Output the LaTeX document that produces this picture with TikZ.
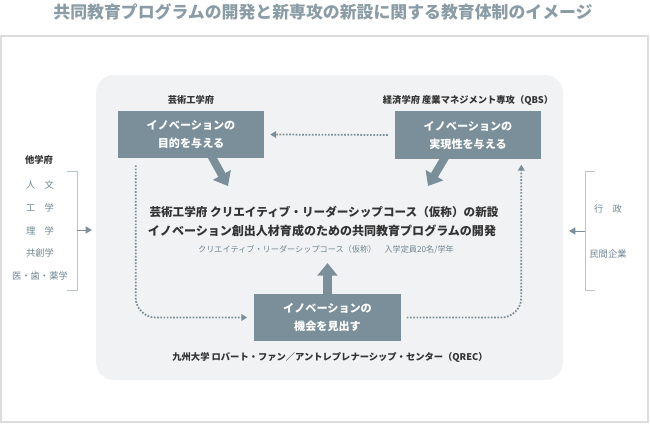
\documentclass[tikz,border=0pt]{standalone}
\usepackage{fontspec}
\setmainfont{Noto Sans CJK JP}
\usepackage{xcolor}
\usepackage{tikz}
\usetikzlibrary{arrows.meta,positioning,calc}
\definecolor{qrecGray}{HTML}{7A8F99}
\definecolor{qrecTitle}{HTML}{8A9CA5}
\definecolor{qrecPanel}{HTML}{F1F2F4}
\definecolor{qrecFrame}{HTML}{DDDDDD}
\definecolor{qrecLine}{HTML}{B8C4CA}
\definecolor{qrecText}{HTML}{333333}
\definecolor{qrecSub}{HTML}{6E8590}

\begin{document}
\begin{tikzpicture}[x=0.025cm, y=-0.025cm, font=\fontsize{6.6}{8}\selectfont,
  innobox/.style={fill=qrecGray, text=white, minimum width=3.65cm, minimum height=1.175cm,
    align=center, inner sep=0pt, font=\fontsize{7.9}{12.8}\selectfont\bfseries},
  unitlabel/.style={text=qrecText, font=\fontsize{6.6}{8}\selectfont\bfseries},
  sidelabel/.style={text=qrecSub, font=\fontsize{6.6}{8}\selectfont},
  dotarrow/.style={qrecGray, line width=1.25pt, dash pattern=on 1.2pt off 1.1pt,
    -{Triangle[length=4.2pt,width=4.8pt]}},
  bigarrow/.style={qrecGray, line width=5.7pt, -{Triangle[length=9pt,width=14pt]}},
  bracket/.style={qrecLine, line width=0.7pt},
  sidearrow/.style={qrecGray, line width=0.7pt, -{Triangle[length=4.5pt,width=5pt]}}]
  \useasboundingbox (0,0) rectangle (650,423);
  \node[text=qrecTitle, font=\fontsize{12}{14}\selectfont\bfseries] (title) at (323,12)
    {共同教育プログラムの開発と新専攻の新設に関する教育体制のイメージ};
  \draw[qrecFrame, line width=1.4pt] (1,36) rectangle (648,422);
  \fill[qrecPanel, rounded corners=0.45cm] (96,75) rectangle (563,380);

  % three units
  \node[innobox] (artbox) at (191,134.5) {イノベーションの\\目的を与える};
  \node[innobox] (qbsbox) at (468,135) {イノベーションの\\実現性を与える};
  \node[innobox] (qrecbox) at (327.5,317.5) {イノベーションの\\機会を見出す};
  \node[unitlabel] (artlabel) at (191,100) {芸術工学府};
  \node[unitlabel] (qbslabel) at (468,100) {経済学府 産業マネジメント専攻（QBS）};
  \node[unitlabel] (qreclabel) at (330,357)
    {九州大学 ロバート・ファン／アントレプレナーシップ・センター（QREC）};

  % new course
  \node[text=qrecText, font=\fontsize{8.25}{10}\selectfont\bfseries] (course) at (324,212)
    {芸術工学府 クリエイティブ・リーダーシップコース（仮称）の新設};
  \node[text=qrecText, font=\fontsize{8.55}{10}\selectfont\bfseries] (program) at (322,231)
    {イノベーション創出人材育成のための共同教育プログラムの開発};
  \node[text=qrecSub, font=\fontsize{5.8}{7}\selectfont] (quota) at (326,250)
    {クリエイティブ・リーダーシップコース（仮称）　入学定員20名/学年};

  \coordinate (arttip) at (228,186);
  \coordinate (qbstip) at (428,186);
  \coordinate (qrectip) at (327.5,263);
  \draw[bigarrow] ($(artbox.south)+(20,-3)$) -- (arttip);
  \draw[bigarrow] ($(qbsbox.south)+(-22,-3)$) -- (qbstip);
  \draw[bigarrow] ($(qrecbox.north)+(0,3)$) -- (qrectip);

  \draw[dotarrow, shorten <=0.17cm, shorten >=0.15cm] (qbsbox.west) -- (artbox.east);
  \draw[dotarrow, rounded corners=0.5cm] ($(artbox.south west)+(18,7)$)
    |- ($(qrecbox.west)+(-7,0)$);
  \draw[dotarrow, rounded corners=0.5cm] ($(qrecbox.east)+(6,0)$)
    -| ($(qbsbox.south east)+(-20,6)$);

  % other faculties
  \node[unitlabel] (others) at (39,160) {他学府};
  \node[sidelabel] (hum) at (40,185) {人　文};
  \node[sidelabel] (eng) at (40,208) {工　学};
  \node[sidelabel] (sci) at (40,231) {理　学};
  \node[sidelabel] (cocrea) at (40,253) {共創学};
  \node[sidelabel] (med) at (40,276) {医・歯・薬学};
  \draw[bracket] (67,171) -- (77,171) -- (77,290) -- (67,290);
  \coordinate (leftfrom) at (77,230);
  \coordinate (leftto) at (92,230);
  \draw[sidearrow] (leftfrom) -- (leftto);

  % government and industry
  \node[sidelabel] (gov) at (608,209) {行　政};
  \node[sidelabel] (firms) at (608,254) {民間企業};
  \draw[bracket] (595,171) -- (585,171) -- (585,290) -- (595,290);
  \coordinate (rightfrom) at (585,231);
  \coordinate (rightto) at (569,231);
  \draw[sidearrow] (rightfrom) -- (rightto);
\end{tikzpicture}
\end{document}
